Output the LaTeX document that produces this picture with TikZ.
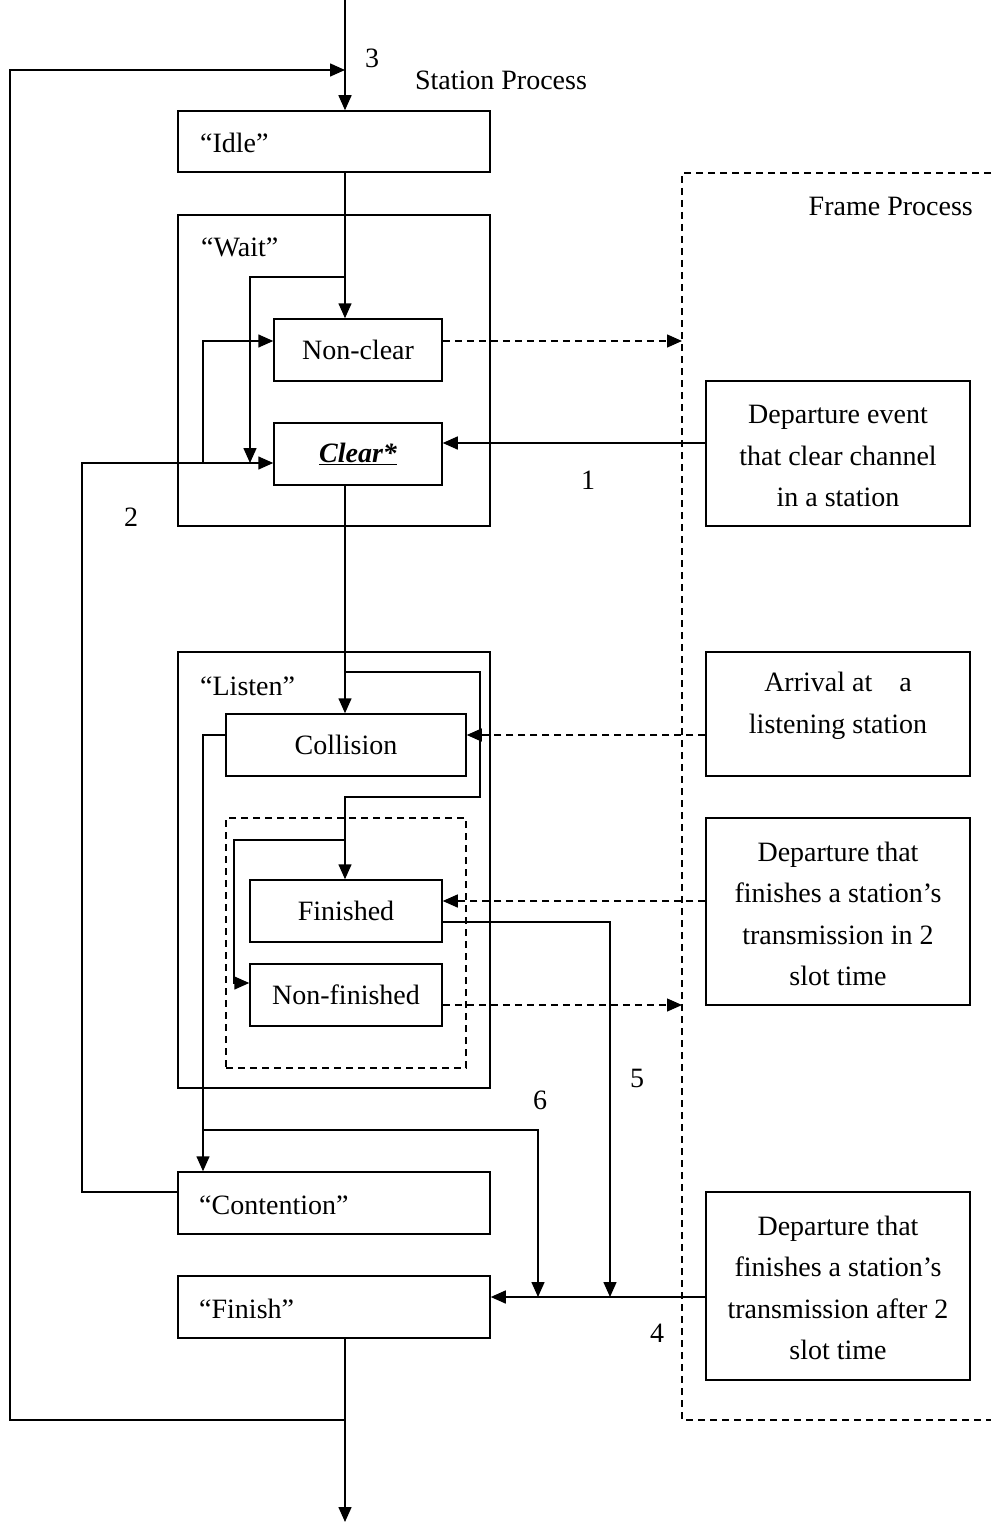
\documentclass[tikz,border=0pt]{standalone}
\usepackage{fontspec}
\setmainfont{Liberation Serif}
\usetikzlibrary{arrows.meta}
\begin{document}
\begin{tikzpicture}[x=1pt,y=-1pt,
  every node/.style={font=\fontsize{28}{41.5}\selectfont},
  box/.style={draw,line width=1.5pt,inner sep=0pt},
  txt/.style={inner sep=0pt,align=center},
  arr/.style={-{Triangle[length=15pt,width=13pt]},line width=1.5pt},
  dashln/.style={dash pattern=on 7pt off 5pt,line width=1.3pt}]
\useasboundingbox (0,0) rectangle (991,1522);

\coordinate (spine) at (345,0);

% station process states
\node[box,minimum width=312pt,minimum height=61pt] (idle) at (334,141.5) {};
\node[txt,anchor=west] (idlet) at (200,143) {“Idle”};

\node[box,minimum width=312pt,minimum height=311pt] (wait) at (334,370.5) {};
\node[txt,anchor=west] (waitt) at (201,247) {“Wait”};
\node[box,minimum width=168pt,minimum height=62pt] (nonclear) at (358,350) {Non-clear};
\node[box,minimum width=168pt,minimum height=62pt] (clear) at (358,454) {\textbf{\textit{\underline{Clear*}}}};

\node[box,minimum width=312pt,minimum height=436pt] (listen) at (334,870) {};
\node[txt,anchor=west] (listent) at (200,686) {“Listen”};
\node[box,minimum width=240pt,minimum height=62pt] (collision) at (346,745) {Collision};
\node[draw,dashln,inner sep=0pt,minimum width=240pt,minimum height=250pt] (fgroup) at (346,943) {};
\node[box,minimum width=192pt,minimum height=62pt] (finished) at (346,911) {Finished};
\node[box,minimum width=192pt,minimum height=62pt] (nonfinished) at (346,995) {Non-finished};

\node[box,minimum width=312pt,minimum height=62pt] (contention) at (334,1203) {};
\node[txt,anchor=west] (contentiont) at (199,1205) {“Contention”};
\node[box,minimum width=312pt,minimum height=62pt] (finish) at (334,1307) {};
\node[txt,anchor=west] (finisht) at (199,1309) {“Finish”};

\node[txt] (stationt) at (501,80) {Station Process};

% frame process events
\coordinate (fTR) at (991,173);
\coordinate (fTL) at (682,173);
\coordinate (fBL) at (682,1420);
\coordinate (fBR) at (991,1420);
\draw[dashln] (fTR) -- (fTL) -- (fBL) -- (fBR);
\node[txt,anchor=east] (framet) at (973,206) {Frame Process};

\node[box,minimum width=264pt,minimum height=145pt] (box1) at (838,453.5) {};
\node[txt] (box1t) at (838,456) {Departure event\\that clear channel\\in a station};
\node[box,minimum width=264pt,minimum height=124pt] (box2) at (838,714) {};
\node[txt] (box2t) at (838,706) {Arrival at\hspace{27pt}a\\listening station};
\node[box,minimum width=264pt,minimum height=187pt] (box3) at (838,911.5) {};
\node[txt] (box3t) at (838,914) {Departure that\\finishes a station’s\\transmission in 2\\slot time};
\node[box,minimum width=264pt,minimum height=188pt] (box4) at (838,1286) {};
\node[txt] (box4t) at (838,1288) {Departure that\\finishes a station’s\\transmission after 2\\slot time};

% transition numbers
\node[txt] (n1) at (588,480) {1};
\node[txt] (n2) at (131,517) {2};
\node[txt] (n3) at (372,58) {3};
\node[txt] (n4) at (657,1333) {4};
\node[txt] (n5) at (637,1078) {5};
\node[txt] (n6) at (540,1100) {6};

% entry and the Wait state
\draw[arr] (spine) -- (spine |- idle.north);
\draw[arr] (idle.south -| spine) -- (nonclear.north -| spine);
\draw[arr] (345,277) -| (250,463);
\coordinate (c2) at (82,463);
\draw[arr] ([yshift=11pt]contention.west) -| (c2) -- (c2 -| clear.west);
\draw[arr] (203,463) |- (nonclear.west |- 0,341);
\draw[arr] (box1.west |- 0,443) -- (clear.east |- 0,443);
\draw[arr,dashln] (nonclear.east |- 0,341) -- (fTL |- 0,341);

% the Listen state
\draw[arr] (clear.south -| spine) -- (collision.north -| spine);
\draw[arr] (345,672) -| (480,797) -| (finished.north -| spine);
\draw[arr] (345,840) -| (234,983) -- (nonfinished.west |- 0,983);
\draw[arr,dashln] (box2.west |- 0,735) -- (collision.east |- 0,735);
\draw[arr,dashln] (box3.west |- 0,901) -- (finished.east |- 0,901);
\draw[arr,dashln] (nonfinished.east |- 0,1005) -- (fTL |- 0,1005);

% Contention and Finish
\draw[arr] (collision.west |- 0,735) -| (contention.north -| 203,0);
\draw[arr] (203,1130) -| (538,1297);
\draw[arr] (finished.east |- 0,922) -| (610,1297);
\draw[arr] (box4.west |- 0,1297) -- (finish.east |- 0,1297);
\draw[arr] (finish.south -| spine) -- (spine |- 0,1522);
\draw[arr] (spine |- 0,1420) -| (10,70) -- (spine |- 0,70);
\end{tikzpicture}
\end{document}
